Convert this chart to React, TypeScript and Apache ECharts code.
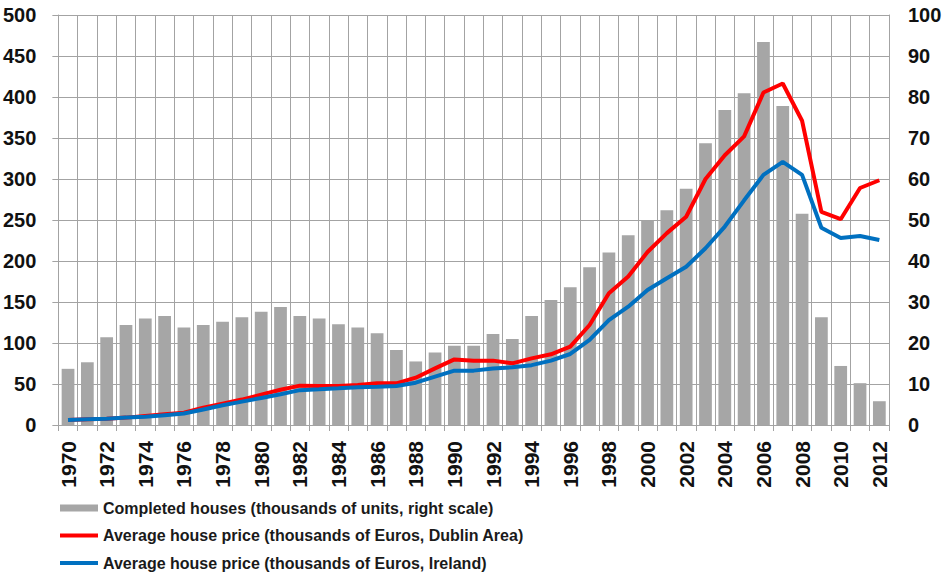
import React, { useEffect, useRef } from "react";
import * as echarts from "echarts";

const years: string[] = [];
for (let y = 1970; y <= 2012; y++) years.push(String(y));

const completedHouses = [
  13.7, 15.3, 21.4, 24.4, 26.0, 26.6, 23.8, 24.4, 25.2, 26.3,
  27.6, 28.8, 26.6, 26.0, 24.6, 23.8, 22.4, 18.3, 15.5, 17.7,
  19.3, 19.3, 22.2, 21.0, 26.6, 30.5, 33.6, 38.5, 42.1, 46.3,
  49.8, 52.4, 57.6, 68.7, 76.8, 80.9, 93.4, 77.8, 51.5, 26.3,
  14.4, 10.2, 5.8,
];

const priceDublin = [
  6, 7, 7.5, 9, 11, 13, 15, 21, 26, 31,
  37, 43, 48, 47.6, 47.6, 48.8, 50.8, 50.8, 57.7, 69,
  80, 78.5, 78.5, 75.2, 81.3, 86.2, 95.5, 122, 160.6, 181,
  211, 234, 254, 300, 329, 352, 405.5, 416.5, 371, 260,
  251, 289, 298.5,
];

const priceIreland = [
  6, 7, 7.5, 9, 10, 12, 14, 19, 24, 28.5,
  33, 37.5, 42.5, 43.5, 44.7, 46, 46.7, 47.6, 51.6, 59,
  66.3, 66.3, 69, 70.3, 73, 78.5, 86.6, 103.7, 128, 144.3,
  164.6, 179, 193, 215.5, 242, 274, 305, 321, 305, 240.6,
  228, 230.5, 225.6,
];

const seriesNames = [
  "Completed houses (thousands of units, right scale)",
  "Average house price (thousands of Euros, Dublin Area)",
  "Average house price (thousands of Euros, Ireland)",
];

const FONT = "Arial";
const GRID = "#a3a3a3";
const LINE_ICON = "path://M0,0L38,0L38,4L0,4Z";
const legendIcons = ["rect", LINE_ICON, LINE_ICON];
const legendTops = [500, 527.5, 555];

export default function App() {
  const ref = useRef<HTMLDivElement>(null);
  useEffect(() => {
    if (!ref.current) return;
    const chart = echarts.init(ref.current, undefined, { renderer: "svg" });
    chart.setOption({
      animation: false,
      backgroundColor: "#ffffff",
      textStyle: { fontFamily: FONT },
      grid: { left: 57, right: 57, top: 15, height: 410 },
      legend: seriesNames.map((name, i) => ({
        orient: "vertical",
        left: 60,
        top: legendTops[i],
        itemWidth: 38,
        itemHeight: 7,
        padding: 0,
        textStyle: { fontFamily: FONT, fontSize: 16, fontWeight: "bold", color: "#1a1a1a" },
        data: [{ name, icon: legendIcons[i] }],
      })),
      xAxis: {
        type: "category",
        data: years,
        boundaryGap: true,
        axisLine: { show: true, lineStyle: { color: GRID, width: 1 } },
        axisTick: { show: true, interval: 0, length: 6, lineStyle: { color: GRID } },
        splitLine: { show: true, interval: 0, lineStyle: { color: GRID, width: 1 } },
        axisLabel: {
          interval: 1,
          rotate: 90,
          margin: 16,
          fontFamily: FONT,
          fontSize: 21,
          fontWeight: "bold",
          color: "#111",
        },
      },
      yAxis: [
        {
          type: "value",
          min: 0,
          max: 500,
          interval: 50,
          axisLine: { show: true, lineStyle: { color: GRID } },
          axisTick: { show: true, length: 6, lineStyle: { color: GRID } },
          splitLine: { show: true, lineStyle: { color: GRID, width: 1 } },
          axisLabel: { margin: 22, fontFamily: FONT, fontSize: 20, fontWeight: "bold", color: "#111" },
        },
        {
          type: "value",
          min: 0,
          max: 100,
          interval: 10,
          position: "right",
          axisLine: { show: true, lineStyle: { color: GRID } },
          axisTick: { show: false },
          splitLine: { show: false },
          axisLabel: { margin: 19, fontFamily: FONT, fontSize: 20, fontWeight: "bold", color: "#111" },
        },
      ],
      series: [
        {
          name: seriesNames[0],
          type: "bar",
          yAxisIndex: 1,
          data: completedHouses,
          barCategoryGap: "34%",
          itemStyle: { color: "#a6a6a6" },
        },
        {
          name: seriesNames[1],
          type: "line",
          yAxisIndex: 0,
          data: priceDublin,
          symbol: "none",
          lineStyle: { color: "#ff0000", width: 4 },
          itemStyle: { color: "#ff0000" },
        },
        {
          name: seriesNames[2],
          type: "line",
          yAxisIndex: 0,
          data: priceIreland,
          symbol: "none",
          lineStyle: { color: "#0070c0", width: 4 },
          itemStyle: { color: "#0070c0" },
        },
      ],
    });
    return () => chart.dispose();
  }, []);
  return (
    <div
      ref={ref}
      style={{ position: "absolute", left: 0, top: 0, width: 946, height: 573 }}
    />
  );
}
